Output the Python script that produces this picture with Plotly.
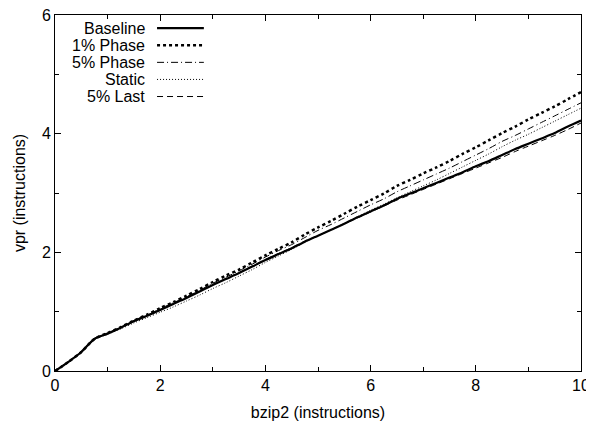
import plotly.graph_objects as go

x_vals = [i * 0.25 for i in range(41)]

baseline = [0, 0.15, 0.32, 0.54, 0.63, 0.73, 0.84, 0.93, 1.03, 1.13, 1.23, 1.34, 1.45, 1.55,
            1.65, 1.76, 1.87, 1.97, 2.07, 2.18, 2.28, 2.38, 2.48, 2.59, 2.69, 2.79, 2.90, 2.99,
            3.08, 3.17, 3.26, 3.35, 3.45, 3.54, 3.64, 3.74, 3.83, 3.92, 4.01, 4.12, 4.22]
phase1 = [0, 0.15, 0.32, 0.54, 0.64, 0.74, 0.85, 0.95, 1.06, 1.16, 1.27, 1.38, 1.50, 1.61,
          1.71, 1.83, 1.95, 2.06, 2.17, 2.30, 2.42, 2.53, 2.65, 2.77, 2.88, 2.99, 3.12, 3.22,
          3.33, 3.43, 3.54, 3.66, 3.77, 3.89, 4.01, 4.12, 4.24, 4.35, 4.46, 4.58, 4.70]
phase5 = [0, 0.15, 0.32, 0.53, 0.63, 0.73, 0.85, 0.94, 1.05, 1.15, 1.25, 1.36, 1.48, 1.58,
          1.69, 1.80, 1.92, 2.03, 2.13, 2.25, 2.37, 2.47, 2.58, 2.69, 2.80, 2.90, 3.02, 3.12,
          3.22, 3.32, 3.42, 3.53, 3.64, 3.75, 3.87, 3.97, 4.08, 4.19, 4.30, 4.41, 4.52]
static = [0, 0.15, 0.32, 0.53, 0.62, 0.71, 0.81, 0.90, 0.99, 1.08, 1.18, 1.28, 1.39, 1.49,
          1.60, 1.71, 1.83, 1.94, 2.05, 2.17, 2.28, 2.38, 2.49, 2.60, 2.71, 2.81, 2.92, 3.02,
          3.12, 3.22, 3.33, 3.44, 3.55, 3.66, 3.78, 3.89, 3.99, 4.10, 4.21, 4.32, 4.43]
last5 = [0, 0.16, 0.33, 0.55, 0.64, 0.74, 0.85, 0.94, 1.04, 1.14, 1.24, 1.35, 1.46, 1.56,
         1.66, 1.77, 1.88, 1.98, 2.08, 2.19, 2.28, 2.38, 2.48, 2.58, 2.68, 2.78, 2.88, 2.97,
         3.06, 3.15, 3.24, 3.33, 3.42, 3.51, 3.60, 3.70, 3.79, 3.88, 3.97, 4.07, 4.18]

series_names = ["Baseline", "1% Phase", "5% Phase", "Static", "5% Last"]
series_data = [baseline, phase1, phase5, static, last5]
styles = [
    dict(width=2.2, dash="solid"),
    dict(width=2.5, dash="3px,3px"),
    dict(width=1, dash="7px,3px,1px,3px"),
    dict(width=1, dash="1px,2px"),
    dict(width=1, dash="6px,4px"),
]

x_ticks = [0, 2, 4, 6, 8, 10]
y_ticks = [0, 2, 4, 6]

FONT = "Liberation Sans, Arial"
FS = 16

fig = go.Figure()
order = [4, 3, 2, 1, 0]
for i in order:
    fig.add_trace(go.Scatter(x=x_vals, y=series_data[i], mode="lines", name=series_names[i],
                             line=dict(color="black", shape="spline", smoothing=0.8, **styles[i]),
                             showlegend=False))

# manual legend (text right-aligned, sample line to the right)
row_y = [0.963, 0.915, 0.867, 0.819, 0.771]
for name, st, yy in zip(series_names, styles, row_y):
    fig.add_annotation(x=0.174, y=yy, xref="paper", yref="paper", text=name,
                       showarrow=False, xanchor="right", yanchor="middle",
                       font=dict(family=FONT, size=FS, color="black"))
    fig.add_shape(type="line", xref="paper", yref="paper", x0=0.194, x1=0.283, y0=yy, y1=yy,
                  line=dict(color="black", **st))

axis_common = dict(
    showgrid=False, zeroline=False, showline=True, linecolor="black", linewidth=1,
    mirror="allticks", ticks="inside", ticklen=6, tickcolor="black", tickwidth=1,
    tickfont=dict(family=FONT, size=FS, color="black"), automargin=False,
    ticklabeloverflow="allow",
    minor=dict(ticks="inside", ticklen=4, dtick=1, tickcolor="black", showgrid=False),
)

fig.update_xaxes(range=[0, 10], tickvals=x_ticks, ticktext=[str(v) for v in x_ticks],
                 title=dict(text="bzip2 (instructions)", standoff=13,
                            font=dict(family=FONT, size=FS, color="black")),
                 **axis_common)
fig.update_yaxes(range=[0, 6], tickvals=y_ticks, ticktext=[str(v) for v in y_ticks],
                 title=dict(text="vpr (instructions)", standoff=12,
                            font=dict(family=FONT, size=FS, color="black")),
                 **axis_common)

# page body has an 8px margin, so the figure is sized to fit the 594x423 window
fig.update_layout(width=586, height=415, margin=dict(l=47, r=13, t=7, b=52),
                  plot_bgcolor="white", paper_bgcolor="white", showlegend=False)

fig.write_html("out.html")
